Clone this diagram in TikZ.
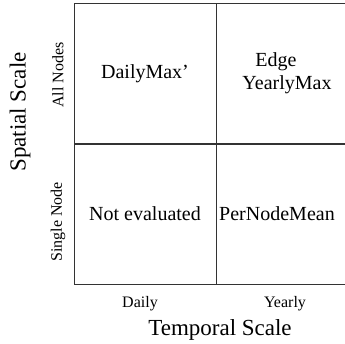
\documentclass[tikz,border=0pt]{standalone}
\usepackage{fontspec}
\setmainfont{Liberation Serif}
\begin{document}
\begin{tikzpicture}[x=1pt, y=1pt]
            \useasboundingbox (0,0) rectangle (345,-343);

            \tikzset{
                cell/.style={draw=black!80, line width=1pt, minimum width=142pt, minimum height=141pt, font=\fontsize{20}{23}\selectfont, align=center, inner sep=0pt},
                tick/.style={font=\fontsize{16}{18}\selectfont},
                title/.style={font=\fontsize{23}{26}\selectfont}
            }

            \node[
                cell,
                name=c1
            ] at (145,-73.5) {DailyMax'};
            \node[
                cell,
                name=c2
            ] at (287,-73.5) {\hspace*{-22pt}Edge\\YearlyMax};
            \node[
                cell,
                name=c3
            ] at (145,-214) {Not evaluated};
            \node[
                cell,
                name=c4
            ] at (287,-214) {\hspace*{-20pt}PerNodeMean};

            % axis ticks
            \node[tick, rotate=90, name=allnodes] at (58,-75) {All Nodes};
            \node[tick, rotate=90, name=singlenode] at (58,-222) {Single Node};
            \node[tick, name=daily] at (140,-304) {Daily};
            \node[tick, name=yearly] at (285,-304) {Yearly};

            % axis titles
            \node[title, rotate=90, name=spatial] at (20,-112) {Spatial Scale};
            \node[title, name=temporal] at (220,-330) {Temporal Scale};
        \end{tikzpicture}
\end{document}
